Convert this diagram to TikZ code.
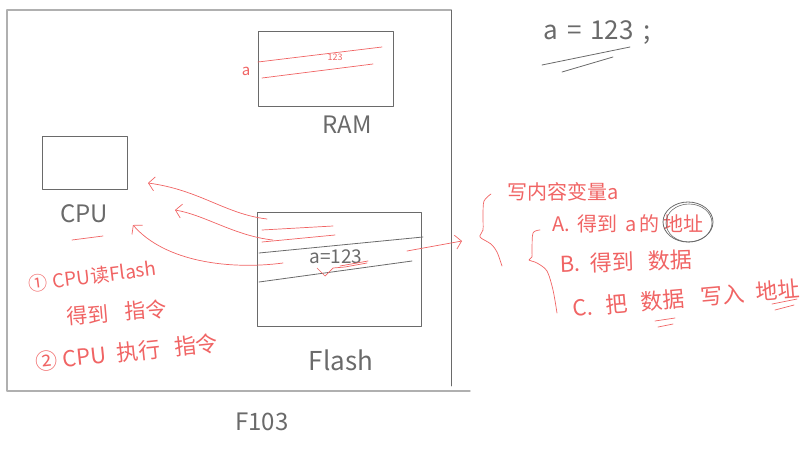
\documentclass[tikz,border=0pt]{standalone}
\usepackage{fontspec}
\setmainfont{Noto Sans CJK SC}
\usetikzlibrary{arrows.meta}
\definecolor{pen}{HTML}{6A6A6A}
\definecolor{ink}{HTML}{F06464}
\definecolor{framec}{HTML}{B0B0B0}
\begin{document}
\begin{tikzpicture}[x=1pt,y=-1pt,
  line cap=round, line join=round,
  graybox/.style={draw=pen,line width=0.8pt,inner sep=0pt},
  grayline/.style={draw=pen,line width=0.8pt},
  frameline/.style={draw=framec,line width=1.4pt},
  redline/.style={draw=ink,line width=0.7pt},
  redarrow/.style={redline,-{Straight Barb[length=6pt,width=14pt]}},
  redtxt/.style={text=ink,inner sep=0pt},
  graytxt/.style={text=pen,inner sep=0pt}]
\useasboundingbox (0,0) rectangle (811,453);

% board frame
\coordinate (bTL) at (7,10);
\coordinate (bTR) at (451,10);
\coordinate (bBL) at (7,391);
\coordinate (bBR) at (470,391);
\draw[frameline] (bTL) -- (bTR);
\draw[frameline] (bTL) -- (bBL) -- (bBR);
\draw[grayline] (bTR) -- (451,386);

% boxes
\node[graybox, minimum width=85pt, minimum height=53pt] (cpu) at (84.5,163) {};
\node[graybox, minimum width=135pt, minimum height=75pt] (ram) at (325.5,68.5) {};
\node[graybox, minimum width=164pt, minimum height=114pt] (flash) at (339,269) {};

% box labels
\node[graytxt, font=\fontsize{24}{28}\selectfont] (cpulbl) at (84,214) {CPU};
\node[graytxt, font=\fontsize{24}{28}\selectfont] (ramlbl) at (347,125) {RAM};
\node[graytxt, font=\fontsize{26}{30}\selectfont] (flashlbl) at (341,360) {Flash};
\node[graytxt, font=\fontsize{24}{28}\selectfont] (chip) at (262,422) {F103};
\draw[redline] (72,240) -- (103,236);

% RAM contents
\draw[redline] (258,62) -- (382,47);
\draw[redline] (262,78) -- (373,64);
\node[redtxt, font=\fontsize{9}{10}\selectfont] (ramval) at (335,57) {123};
\node[redtxt, font=\fontsize{15}{18}\selectfont] (ramvar) at (246,71) {a};

% Flash contents
\draw[grayline] (259,253) -- (423,237);
\draw[grayline] (259,282) -- (412,261);
\draw[redline] (262,230) -- (333,226);
\draw[redline] (262,242) -- (335,235);
\node[graytxt, font=\fontsize{19}{22}\selectfont] (code) at (336,257) {a=123};
\draw[redline] (317,268) -- (325,276) -- (333,268) -- (345,267) -- (367,263);
\draw[redline] (340,266) -- (368,261);

% arrows from Flash to CPU
\coordinate (f1) at (267,219);
\coordinate (c1) at (148,183);
\coordinate (f2) at (273,240);
\coordinate (c2) at (175,210);
\coordinate (f3) at (283,263);
\coordinate (c3) at (133,225);
\draw[redarrow] (f1) .. controls (225,214) and (200,190) .. (c1);
\draw[redarrow] (f2) .. controls (235,236) and (205,215) .. (c2);
\draw[redarrow] (f3) .. controls (230,270) and (165,262) .. (c3);

% arrow from Flash to notes
\coordinate (f4) at (407,251);
\coordinate (n4) at (462,241);
\draw[redarrow] (f4) -- (n4);

% left notes
\node[redtxt, anchor=west, rotate=7, font=\fontsize{19}{22}\selectfont] (s1) at (28,284) {①\hspace{6pt}CPU读Flash};
\node[redtxt, anchor=west, rotate=5, font=\fontsize{21}{24}\selectfont] (s1b) at (67,317) {得到\hspace{16pt}指令};
\node[redtxt, anchor=west, rotate=6, font=\fontsize{22}{26}\selectfont] (s2) at (35,362) {②\hspace{6pt}CPU\hspace{10pt}执行\hspace{14pt}指令};

% top right statement
\node[graytxt, font=\fontsize{26}{30}\selectfont] (stmt) at (597,33) {a\hspace{10pt}=\hspace{8pt}123\hspace{10pt};};
\draw[grayline] (542,65) -- (630,47);
\draw[grayline] (562,72) -- (613,57);

% braces
\draw[redline] plot[smooth] coordinates {(491,194) (484,201) (483,215) (483,230) (480,237) (491,244) (497,252) (502,266)};
\draw[redline] plot[smooth] coordinates {(540,230) (533,233) (532,250) (532,257) (529,260) (537,263) (547,271) (553,290) (557,313)};

% right notes
\node[redtxt, anchor=west, font=\fontsize{20}{24}\selectfont] (title) at (507,192) {写内容变量a};
\node[redtxt, anchor=west, font=\fontsize{20}{24}\selectfont] (stA) at (552,224) {A.\hspace{8pt}得到\hspace{8pt}a\hspace{2pt}的\hspace{4pt}地址};
\draw[pen, line width=0.8pt] (688,222) ellipse [x radius=25, y radius=20];
\draw[pen, line width=0.6pt] (689,223) ellipse [x radius=23, y radius=19];
\node[redtxt, anchor=west, rotate=2, font=\fontsize{22}{26}\selectfont] (stB) at (560,264) {B.\hspace{9pt}得到\hspace{15pt}数据};
\node[redtxt, anchor=west, rotate=5, font=\fontsize{22}{26}\selectfont] (stC) at (573,308) {C.\hspace{13pt}把\hspace{13pt}数据\hspace{16pt}写入\hspace{11pt}地址};
\draw[redline] (655,321) -- (675,318);
\draw[redline] (658,327) -- (673,324);
\draw[redline] (772,304) -- (797,299);
\draw[redline] (775,310) -- (794,305);
\end{tikzpicture}
\end{document}
